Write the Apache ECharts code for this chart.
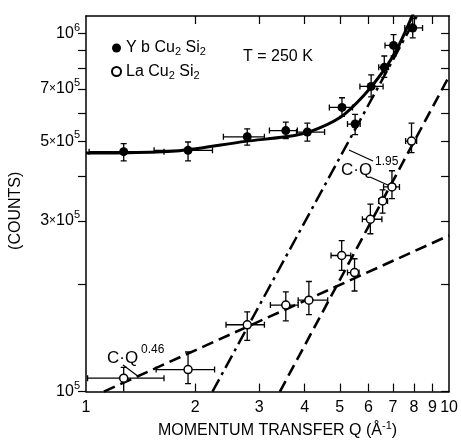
<!DOCTYPE html>
<html><head><meta charset="utf-8">
<script src="https://cdn.jsdelivr.net/npm/echarts@6/dist/echarts.min.js"></script>
<style>html,body{margin:0;padding:0;background:#fff}#c{width:461px;height:444px}</style>
</head><body><div id="c"></div>
<script>
// ---- data (Q in 1/Å, counts) ----
const ybQ      = [1.27, 1.91, 2.78, 3.55, 4.07, 5.07, 5.51, 6.10, 6.63, 7.03, 7.94];
const ybCounts = [4.68e5, 4.72e5, 5.15e5, 5.36e5, 5.31e5, 6.22e5, 5.59e5, 7.12e5, 8.05e5, 9.27e5, 1.037e6];
const ybQLow   = [1.02, 1.54, 2.39, 3.20, 3.80, 4.68, 5.25, 5.68, 6.40, 6.66, 7.55];
const ybQHigh  = [1.64, 2.23, 3.10, 3.82, 4.54, 5.42, 5.69, 6.58, 6.81, 7.31, 8.45];
const ybCLow   = [4.41e5, 4.41e5, 4.88e5, 5.09e5, 5.01e5, 5.87e5, 5.22e5, 6.66e5, 7.55e5, 8.66e5, 9.73e5];
const ybCHigh  = [4.93e5, 4.98e5, 5.42e5, 5.66e5, 5.62e5, 6.62e5, 5.95e5, 7.67e5, 8.66e5, 9.94e5, 1.104e6];

const laQ      = [1.27, 1.91, 2.78, 3.55, 4.11, 5.06, 5.49, 6.07, 6.56, 6.96, 7.88];
const laCounts = [1.09e5, 1.152e5, 1.537e5, 1.745e5, 1.80e5, 2.40e5, 2.15e5, 3.03e5, 3.41e5, 3.73e5, 5.01e5];
const laQLow   = [1.01, 1.56, 2.43, 3.22, 3.84, 4.73, 5.25, 5.77, 6.40, 6.60, 7.59];
const laQHigh  = [1.64, 2.26, 3.10, 3.84, 4.63, 5.36, 5.65, 6.53, 6.77, 7.30, 8.14];
const laCLow   = [0.98e5, 1.052e5, 1.39e5, 1.577e5, 1.64e5, 2.18e5, 1.91e5, 2.76e5, 3.15e5, 3.46e5, 4.65e5];
const laCHigh  = [1.169e5, 1.29e5, 1.67e5, 1.90e5, 2.03e5, 2.64e5, 2.35e5, 3.34e5, 3.66e5, 4.14e5, 5.62e5];

// guide curves
const curveQ      = [1, 1.27, 1.81, 2.75, 3.54, 4.09, 5.02, 5.83, 6.60, 7.18, 8.05];
const curveCounts = [4.64e5, 4.65e5, 4.71e5, 5.00e5, 5.15e5, 5.30e5, 5.84e5, 6.73e5, 7.88e5, 9.04e5, 1.165e6];
const fitLowQ       = [1.12, 10];
const fitLowCounts  = [1e5, 2.73e5];
const fitHighQ      = [3.42, 10];
const fitHighCounts = [1e5, 7.6e5];
const fitDashDotQ      = [2.23, 8.15];
const fitDashDotCounts = [1e5, 1.12e6];

// axes
const xTickValues  = [1, 2, 3, 4, 5, 6, 7, 8, 9, 10];
const yTickValues  = [1e5, 2e5, 3e5, 4e5, 5e5, 6e5, 7e5, 8e5, 9e5, 1e6];
const yLabelValues = [1e5, 3e5, 5e5, 7e5, 1e6];
const yMin = 1e5, yMax = 1.12e6;

// ---- chart ----
const L = Math.log10;
const FONT = 'Liberation Sans';
const BLACK = '#000';

function pairs(q, c) { return q.map((v, i) => [L(v), L(c[i])]); }
function errData(q, c, ql, qh, cl, ch) {
  return q.map((v, i) => [L(v), L(c[i]), L(ql[i]), L(qh[i]), L(cl[i]), L(ch[i])]);
}
function renderErr(params, api) {
  const x = api.value(0), y = api.value(1);
  const pl = api.coord([api.value(2), y]), ph = api.coord([api.value(3), y]);
  const pb = api.coord([x, api.value(4)]), pt = api.coord([x, api.value(5)]);
  const cap = 3;
  const style = { stroke: BLACK, lineWidth: 1.3, fill: null };
  const seg = (x1, y1, x2, y2) => ({ type: 'line', shape: { x1, y1, x2, y2 }, style });
  return {
    type: 'group',
    children: [
      seg(pl[0], pl[1], ph[0], ph[1]),
      seg(pl[0], pl[1] - cap, pl[0], pl[1] + cap),
      seg(ph[0], ph[1] - cap, ph[0], ph[1] + cap),
      seg(pb[0], pb[1], pt[0], pt[1]),
      seg(pb[0] - cap, pb[1], pb[0] + cap, pb[1]),
      seg(pt[0] - cap, pt[1], pt[0] + cap, pt[1])
    ]
  };
}
function yLabel(v) {
  const m = Math.round(Math.pow(10, v) / 1e5);
  if (m === 1) return '10{sup|5}';
  if (m === 10) return '10{sup|6}';
  return m + '{x|×}10{sup|5}';
}
const supStyle = { fontSize: 11, fontFamily: FONT, color: BLACK, padding: [0, 0, 12, 0] };

const chart = echarts.init(document.getElementById('c'), null, { renderer: 'canvas' });
const axisLineStyle = { color: BLACK, width: 1.5 };
const tickLineStyle = { color: BLACK, width: 1.2 };

const option = {
  animation: false,
  backgroundColor: '#fff',
  grid: { left: 85, right: 8, top: 16, bottom: 46, containLabel: false },
  xAxis: [
    {
      type: 'value', min: L(xTickValues[0]), max: L(xTickValues[xTickValues.length - 1]), position: 'bottom',
      axisLine: { show: true, onZero: false, lineStyle: axisLineStyle },
      axisTick: { show: true, inside: true, length: 8, lineStyle: tickLineStyle,
        customValues: xTickValues.slice(1, -1).map(L) },
      axisLabel: { customValues: xTickValues.map(L), formatter: v => String(Math.round(Math.pow(10, v))),
        color: BLACK, fontSize: 16, fontFamily: FONT, margin: 8 },
      splitLine: { show: false },
      name: 'MOMENTUM TRANSFER Q ({a|Å}{sup|-1})', nameLocation: 'middle', nameGap: 28,
      nameTextStyle: { color: BLACK, fontSize: 16, fontFamily: FONT, padding: [0, 0, 0, 20],
        rich: { a: { fontSize: 16, fontFamily: FONT, color: BLACK }, sup: { fontSize: 11, fontFamily: FONT, color: BLACK, padding: [0, 0, 10, 0] } } }
    },
    {
      type: 'value', min: L(xTickValues[0]), max: L(xTickValues[xTickValues.length - 1]), position: 'top',
      axisLine: { show: true, onZero: false, lineStyle: axisLineStyle },
      axisTick: { show: true, inside: true, length: 8, lineStyle: tickLineStyle,
        customValues: xTickValues.slice(1, -1).map(L) },
      axisLabel: { show: false }, splitLine: { show: false }
    }
  ],
  yAxis: [
    {
      type: 'value', min: L(yMin), max: L(yMax), position: 'left',
      axisLine: { show: true, onZero: false, lineStyle: axisLineStyle },
      axisTick: { show: true, inside: false, length: 8, lineStyle: tickLineStyle, customValues: yTickValues.map(L) },
      axisLabel: { customValues: yLabelValues.map(L), formatter: yLabel, color: BLACK, fontSize: 16, fontFamily: FONT, margin: 6,
        rich: { sup: supStyle, x: { fontSize: 12, fontFamily: FONT, color: BLACK } } },
      splitLine: { show: false },
      name: '(COUNTS)', nameLocation: 'middle', nameRotate: 90, nameGap: 62,
      nameTextStyle: { color: BLACK, fontSize: 16, fontFamily: FONT, padding: [0, 14, 0, 0] }
    },
    {
      type: 'value', min: L(yMin), max: L(yMax), position: 'right',
      axisLine: { show: true, onZero: false, lineStyle: axisLineStyle },
      axisTick: { show: true, inside: true, length: 8, lineStyle: tickLineStyle, customValues: yTickValues.map(L) },
      axisLabel: { show: false }, splitLine: { show: false }
    }
  ],
  legend: {
    orient: 'vertical', left: 106, top: 35, itemWidth: 9, itemHeight: 9, itemGap: 6,
    data: ['YbCu2Si2', 'LaCu2Si2'],
    formatter: n => n === 'YbCu2Si2' ? 'Y b Cu{sub|2} Si{sub|2}' : 'La Cu{sub|2} Si{sub|2}',
    textStyle: { color: BLACK, fontSize: 16, fontFamily: FONT,
      rich: { sub: { fontSize: 11, fontFamily: FONT, color: BLACK, padding: [8, 0, 0, 0] } } }
  },
  series: [
    { name: 'curve', type: 'line', data: pairs(curveQ, curveCounts), smooth: 0.3, showSymbol: false,
      lineStyle: { color: BLACK, width: 3 }, clip: true, silent: true, z: 2 },
    { name: 'fit low', type: 'line', data: pairs(fitLowQ, fitLowCounts), showSymbol: false,
      lineStyle: { color: BLACK, width: 2.6, type: [12, 6] }, clip: true, z: 2 },
    { name: 'fit high', type: 'line', data: pairs(fitHighQ, fitHighCounts), showSymbol: false,
      lineStyle: { color: BLACK, width: 2.6, type: [12, 6] }, clip: true, z: 2 },
    { name: 'fit dashdot', type: 'line', data: pairs(fitDashDotQ, fitDashDotCounts), showSymbol: false,
      lineStyle: { color: BLACK, width: 2.5, type: [14, 5, 3, 5] }, clip: true, z: 2 },
    { name: 'yb err', type: 'custom', renderItem: renderErr, data: errData(ybQ, ybCounts, ybQLow, ybQHigh, ybCLow, ybCHigh), clip: true, z: 3 },
    { name: 'la err', type: 'custom', renderItem: renderErr, data: errData(laQ, laCounts, laQLow, laQHigh, laCLow, laCHigh), clip: true, z: 3 },
    { name: 'YbCu2Si2', type: 'scatter', data: pairs(ybQ, ybCounts), symbol: 'circle', symbolSize: 9,
      itemStyle: { color: BLACK, opacity: 1 }, z: 5 },
    { name: 'LaCu2Si2', type: 'scatter', data: pairs(laQ, laCounts), symbol: 'circle', symbolSize: 8,
      itemStyle: { color: '#fff', borderColor: BLACK, borderWidth: 1.5, opacity: 1 }, z: 5 }
  ],
  graphic: [
    { type: 'text', x: 243, y: 57, style: { text: 'T = 250 K', font: '16px "' + FONT + '"', fill: BLACK, verticalAlign: 'middle' } },
    { type: 'text', x: 107, y: 358, style: { text: 'C·Q', font: '17px "' + FONT + '"', fill: BLACK, verticalAlign: 'middle' } },
    { type: 'text', x: 141, y: 350, style: { text: '0.46', font: '12px "' + FONT + '"', fill: BLACK, verticalAlign: 'middle' } },
    { type: 'line', shape: { x1: 123, y1: 365, x2: 139, y2: 377 }, style: { stroke: BLACK, lineWidth: 1.2 } },
    { type: 'text', x: 341, y: 170, style: { text: 'C·Q', font: '17px "' + FONT + '"', fill: BLACK, verticalAlign: 'middle' } },
    { type: 'text', x: 375, y: 161.5, style: { text: '1.95', font: '12px "' + FONT + '"', fill: BLACK, verticalAlign: 'middle' } },
    { type: 'line', shape: { x1: 349, y1: 150, x2: 373, y2: 161 }, style: { stroke: BLACK, lineWidth: 1.2 } },
    { type: 'line', shape: { x1: 370, y1: 177, x2: 390, y2: 186 }, style: { stroke: BLACK, lineWidth: 1.2 } }
  ]
};
chart.setOption(option);
</script>
</body></html>
